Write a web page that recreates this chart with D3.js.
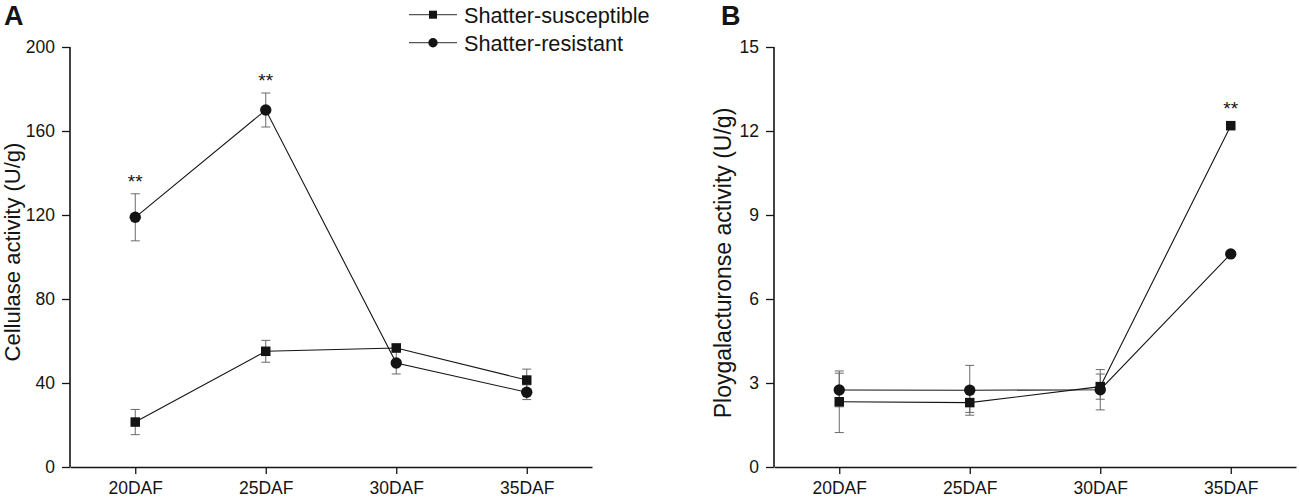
<!DOCTYPE html>
<html>
<head>
<meta charset="utf-8">
<script src="https://cdn.jsdelivr.net/npm/d3@7/dist/d3.min.js"></script>
<style>
  html, body { margin: 0; padding: 0; background: #fff; }
  svg { display: block; font-family: "Liberation Sans", Arial, Helvetica, sans-serif; }
</style>
</head>
<body>
<svg id="chart" width="1299" height="497"></svg>
<script>
// ---------- data ----------
const categories = ["20DAF", "25DAF", "30DAF", "35DAF"];
const seriesNames = ["Shatter-susceptible", "Shatter-resistant"];

// Panel A: Cellulase activity (U/g)
const cellSus    = [21.4, 55.1, 56.7, 41.4];
const cellSusErr = [6.0, 5.2, 1.5, 5.2];
const cellRes    = [118.9, 170.0, 49.5, 35.6];
const cellResErr = [11.2, 8.1, 5.2, 3.5];
const cellSig    = ["**", "**", "", ""];
const cellTicks  = [0, 40, 80, 120, 160, 200];

// Panel B: Ploygalacturonse activity (U/g)
const pgSus    = [2.33, 2.30, 2.87, 12.19];
const pgSusErr = [1.10, 0.35, 0.45, 0.05];
const pgRes    = [2.75, 2.74, 2.76, 7.61];
const pgResErr = [0.60, 0.89, 0.72, 0.05];
const pgSig    = ["", "", "", "**"];
const pgTicks  = [0, 3, 6, 9, 12, 15];

// ---------- drawing ----------
const svg = d3.select("#chart");
const ink = "#141414";

function drawPanel(opt) {
  const g = svg.append("g");
  const x = d3.scalePoint().domain(categories).range([opt.x0, opt.x1]).padding(0.5);
  const y = d3.scaleLinear().domain([0, opt.ymax]).range([467, 47]);

  // axes
  const yAxis = g.append("g").attr("transform", `translate(${opt.x0},0)`)
    .call(d3.axisLeft(y).tickValues(opt.ticks).tickSize(8).tickPadding(7).tickFormat(d3.format("d")));
  const xAxis = g.append("g").attr("transform", `translate(0,467)`)
    .call(d3.axisBottom(x).tickSize(7).tickPadding(8).tickSizeOuter(0));
  [yAxis, xAxis].forEach(a => {
    a.select(".domain").attr("stroke", ink).attr("stroke-width", 1.6);
    a.selectAll(".tick line").attr("stroke", ink).attr("stroke-width", 1.3);
    a.selectAll(".tick text").attr("fill", ink).attr("font-size", 17.5)
      .attr("font-family", "'Liberation Sans', Arial, sans-serif");
  });
  yAxis.select(".domain").attr("d", `M0,${y(opt.ymax)}V${y(0)}`);

  // y label
  g.append("text")
    .attr("transform", `translate(${opt.labelX},${opt.labelY}) rotate(-90)`)
    .attr("text-anchor", "middle")
    .attr("font-size", opt.labelSize).attr("fill", ink)
    .text(opt.label);

  // panel letter
  g.append("text").attr("x", opt.letterX).attr("y", 25)
    .attr("font-size", 27).attr("font-weight", "bold").attr("fill", ink)
    .text(opt.letter);

  const series = [
    { vals: opt.sus, err: opt.susErr, shape: "square" },
    { vals: opt.res, err: opt.resErr, shape: "circle" }
  ];

  // error bars
  series.forEach(s => {
    const eg = g.append("g").attr("stroke", "#6a6a6a").attr("stroke-width", 1).attr("fill", "none");
    categories.forEach((c, i) => {
      const cx = x(c), top = y(s.vals[i] + s.err[i]), bot = y(s.vals[i] - s.err[i]);
      eg.append("line").attr("x1", cx).attr("x2", cx).attr("y1", top).attr("y2", bot);
      eg.append("line").attr("x1", cx - 4.5).attr("x2", cx + 4.5).attr("y1", top).attr("y2", top);
      eg.append("line").attr("x1", cx - 4.5).attr("x2", cx + 4.5).attr("y1", bot).attr("y2", bot);
    });
  });

  // lines
  series.forEach(s => {
    const line = d3.line().x((d, i) => x(categories[i])).y(d => y(d));
    g.append("path").datum(s.vals).attr("d", line)
      .attr("fill", "none").attr("stroke", ink).attr("stroke-width", 1.1);
  });

  // markers
  series.forEach(s => {
    categories.forEach((c, i) => {
      if (s.shape === "square") {
        g.append("rect").attr("x", x(c) - 4.75).attr("y", y(s.vals[i]) - 4.75)
          .attr("width", 9.5).attr("height", 9.5).attr("fill", ink);
      } else {
        g.append("circle").attr("cx", x(c)).attr("cy", y(s.vals[i])).attr("r", 5.7).attr("fill", ink);
      }
    });
  });

  // significance
  categories.forEach((c, i) => {
    if (!opt.sig[i]) return;
    const tops = series.map(s => Math.min(y(s.vals[i] + s.err[i]), y(s.vals[i]) - 4.5));
    const top = Math.min(...tops);
    g.append("text").attr("x", x(c)).attr("y", top - 6)
      .attr("text-anchor", "middle").attr("font-size", 19).attr("fill", ink)
      .text(opt.sig[i]);
  });
}

drawPanel({
  x0: 70, x1: 592, ymax: 200, ticks: cellTicks,
  sus: cellSus, susErr: cellSusErr, res: cellRes, resErr: cellResErr, sig: cellSig,
  label: "Cellulase activity (U/g)", labelX: 20, labelY: 252, labelSize: 22,
  letter: "A", letterX: 4
});
drawPanel({
  x0: 774, x1: 1296, ymax: 15, ticks: pgTicks,
  sus: pgSus, susErr: pgSusErr, res: pgRes, resErr: pgResErr, sig: pgSig,
  label: "Ploygalacturonse activity (U/g)", labelX: 731, labelY: 263, labelSize: 23,
  letter: "B", letterX: 721
});

// legend
const legend = svg.append("g");
seriesNames.forEach((name, i) => {
  const ry = 14.7 + i * 28;
  legend.append("line").attr("x1", 409).attr("x2", 457).attr("y1", ry).attr("y2", ry)
    .attr("stroke", "#555").attr("stroke-width", 1.2);
  if (i === 0) {
    legend.append("rect").attr("x", 433 - 4).attr("y", ry - 4).attr("width", 8).attr("height", 8).attr("fill", ink);
  } else {
    legend.append("circle").attr("cx", 433).attr("cy", ry).attr("r", 4.7).attr("fill", ink);
  }
  legend.append("text").attr("x", 464).attr("y", ry).attr("dy", "0.36em")
    .attr("font-size", 21.7).attr("fill", ink).text(name);
});
</script>
</body>
</html>
